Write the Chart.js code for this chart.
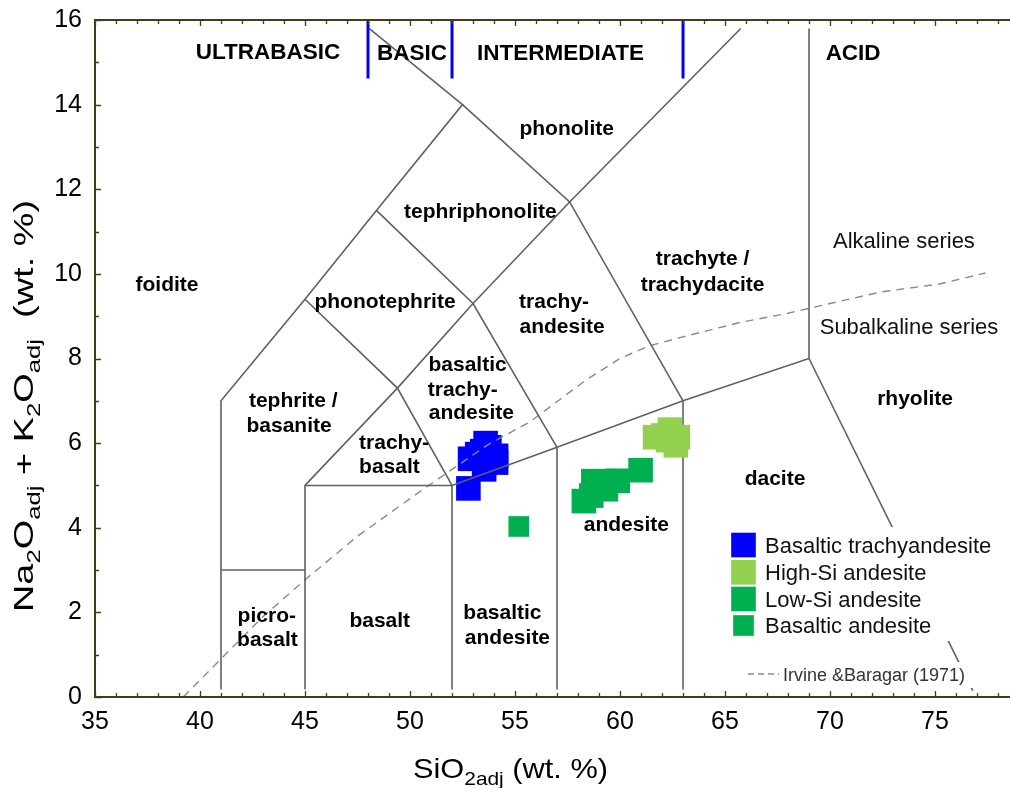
<!DOCTYPE html>
<html>
<head>
<meta charset="utf-8">
<title>TAS diagram</title>
<script src="https://cdn.jsdelivr.net/npm/chart.js@4.4.1/dist/chart.umd.min.js"></script>
<style>
  html, body { margin: 0; padding: 0; background: #fff; overflow: hidden; }
  #wrap { width: 1010px; height: 788px; position: relative; }
  #tas { display: block; }
</style>
</head>
<body>
<div id="wrap"><canvas id="tas" width="1010" height="788"></canvas></div>
<script>
// ---- axis ranges and tick labels ----
const xMin = 35, xMax = 78.57;
const yMin = 0, yMax = 16;
const xTickValues = [35, 40, 45, 50, 55, 60, 65, 70, 75];
const yTickValues = [0, 2, 4, 6, 8, 10, 12, 14, 16];

// ---- TAS field boundaries (SiO2, Na2O+K2O), one polyline each ----
const tasBoundaries = [
  [[41, 0.18], [41, 7], [45, 9.4], [48.4, 11.5], [52.5, 14], [48.05, 15.8]],
  [[41, 3], [45, 3]],
  [[45, 0.18], [45, 5], [49.4, 7.3], [53, 9.3], [57.6, 11.7], [65.75, 15.8]],
  [[45, 5], [52, 5], [57, 5.9], [63, 7], [69, 8], [69, 15.8]],
  [[69, 8], [76.8, 0.15]],
  [[52, 0.18], [52, 5]],
  [[57, 0.18], [57, 5.9]],
  [[63, 0.18], [63, 7]],
  [[45, 9.4], [49.4, 7.3], [52, 5]],
  [[48.4, 11.5], [53, 9.3], [57, 5.9]],
  [[52.5, 14], [57.6, 11.7], [63, 7]]
];

// ultrabasic / basic / intermediate / acid dividers
const silicaClassLimits = [48, 52, 63];
const silicaClassTop = 16, silicaClassBottom = 14.62;

// Irvine & Baragar (1971) alkaline / subalkaline divide
const irvineSiO2 = [39.2, 41, 43, 45, 47.5, 50.6, 53.7, 55.7, 58.4, 60, 61.4, 62.9, 65.7, 68, 70, 72.4, 75.2, 77.4];
const irvineAlk  = [0, 0.9, 1.9, 2.77, 3.8, 4.9, 5.96, 6.5, 7.5, 8.0, 8.3, 8.5, 8.85, 9.07, 9.3, 9.57, 9.76, 10.02];

// ---- samples ----
const btaSiO2 = [52.78, 52.86, 53.20, 53.44, 53.60, 53.78, 54.10, 54.10, 53.53, 53.81];
const btaAlk  = [4.93, 5.63, 5.74, 5.81, 6.00, 5.90, 5.70, 5.54, 5.38, 5.60];

const hiSiSiO2 = [61.67, 62.06, 62.38, 62.75, 62.66, 62.29];
const hiSiAlk  = [6.14, 6.18, 6.32, 6.14, 5.95, 6.07];

const loSiSiO2 = [58.28, 58.63, 58.73, 59.29, 59.33, 59.89, 60.98];
const loSiAlk  = [4.63, 4.76, 5.10, 5.10, 4.91, 5.11, 5.36];

const baSiO2 = [55.18];
const baAlk  = [4.03];

// ---- text placed in the diagram (anchor = SiO2, alkalis at text centre) ----
const classNames = [
  ['ULTRABASIC', 43.24, 15.28],
  ['BASIC', 50.10, 15.24],
  ['INTERMEDIATE', 57.17, 15.24],
  ['ACID', 71.10, 15.24]
];
const fieldNames = [
  ['phonolite', 57.46, 13.46],
  ['tephriphonolite', 53.35, 11.51],
  ['foidite', 38.43, 9.78],
  ['phonotephrite', 48.81, 9.38],
  ['trachy-', 56.86, 9.38],
  ['andesite', 57.24, 8.77],
  ['trachyte /', 63.93, 10.38],
  ['trachydacite', 63.93, 9.78],
  ['basaltic', 52.74, 7.89],
  ['trachy-', 52.51, 7.28],
  ['andesite', 52.92, 6.74],
  ['tephrite /', 44.44, 7.02],
  ['basanite', 44.24, 6.45],
  ['trachy-', 49.24, 6.03],
  ['basalt', 49.02, 5.48],
  ['rhyolite', 74.05, 7.07],
  ['dacite', 67.38, 5.18],
  ['andesite', 60.30, 4.09],
  ['picro-', 43.18, 1.94],
  ['basalt', 43.21, 1.39],
  ['basalt', 48.56, 1.84],
  ['basaltic', 54.40, 2.01],
  ['andesite', 54.64, 1.42]
];
const seriesNames = [
  ['Alkaline series', 73.52, 10.80],
  ['Subalkaline series', 73.76, 8.77]
];

const FONT = '"Liberation Sans", Arial, Helvetica, sans-serif';
const LINE_GREY = '#606060';
const AXIS_COLOR = '#3f3f1c';

const toPoints = (xs, ys) => xs.map((x, i) => ({ x: x, y: ys[i] }));

const boundarySets = tasBoundaries.map(line => ({
  label: '_field',
  data: line.map(p => ({ x: p[0], y: p[1] })),
  showLine: true, spanGaps: false,
  borderColor: LINE_GREY, borderWidth: 1.6,
  pointRadius: 0, pointHoverRadius: 0,
  order: 5
}));

const classSets = silicaClassLimits.map(s => ({
  label: '_class',
  data: [{ x: s, y: silicaClassTop }, { x: s, y: silicaClassBottom }],
  showLine: true,
  borderColor: '#0000ff', borderWidth: 3,
  pointRadius: 0, pointHoverRadius: 0,
  order: 5
}));

const irvineSet = {
  label: '_irvine',
  data: toPoints(irvineSiO2, irvineAlk),
  showLine: true,
  borderColor: '#8a8a8a', borderWidth: 1.4, borderDash: [8, 6],
  pointRadius: 0, pointHoverRadius: 0,
  order: 5
};

function sampleSet(label, xs, ys, color, radius, order) {
  return {
    label: label,
    data: toPoints(xs, ys),
    pointStyle: 'rect',
    pointRadius: radius, pointHoverRadius: radius,
    backgroundColor: color, borderColor: color, borderWidth: 0,
    showLine: false,
    order: order,
    isSample: true
  };
}

const sampleSets = [
  sampleSet('Basaltic trachyandesite', btaSiO2, btaAlk, '#0000ff', 17.4, 10),
  sampleSet('High-Si andesite', hiSiSiO2, hiSiAlk, '#92d050', 17.4, 1),
  sampleSet('Low-Si andesite', loSiSiO2, loSiAlk, '#00b050', 17.4, 1),
  sampleSet('Basaltic andesite', baSiO2, baAlk, '#00b050', 14.6, 1)
];

// draws frame with inward ticks, text in the fields, axis titles and the key
const tasDecor = {
  id: 'tasDecor',
  afterDatasetsDraw(chart) {
    const ctx = chart.ctx;
    const xs = chart.scales.x, ys = chart.scales.y;
    const a = chart.chartArea;
    const X = v => xs.getPixelForValue(v);
    const Y = v => ys.getPixelForValue(v);

    ctx.save();
    // text inside the diagram
    ctx.textAlign = 'center';
    ctx.textBaseline = 'alphabetic';
    ctx.fillStyle = '#000';
    const putText = (list, font, size) => {
      ctx.font = font;
      list.forEach(t => ctx.fillText(t[0], X(t[1]), Y(t[2]) + 0.358 * size));
    };
    putText(classNames, 'bold 22.5px ' + FONT, 22.5);
    putText(fieldNames, 'bold 21px ' + FONT, 21);
    ctx.fillStyle = '#111';
    putText(seriesNames, '22px ' + FONT, 22);

    // key for the sample groups
    ctx.fillStyle = '#fff';
    ctx.fillRect(726, 527, 274, 114);
    const rowY = [545, 572.3, 599, 625.5];
    const sets = chart.data.datasets.filter(d => d.isSample);
    ctx.textAlign = 'left';
    ctx.textBaseline = 'alphabetic';
    ctx.font = '22px ' + FONT;
    sets.forEach((d, i) => {
      const side = d.pointRadius * Math.SQRT2;
      ctx.fillStyle = d.backgroundColor;
      ctx.fillRect(743.5 - side / 2, rowY[i] - side / 2, side, side);
      ctx.fillStyle = '#111';
      ctx.fillText(d.label, 765, rowY[i] + 0.358 * 22);
    });

    // key for the dashed divide
    ctx.fillStyle = '#fff';
    ctx.fillRect(744, 662, 230, 26);
    ctx.strokeStyle = '#8a8a8a';
    ctx.lineWidth = 1.3;
    ctx.setLineDash([6, 4]);
    ctx.beginPath();
    ctx.moveTo(748, 674);
    ctx.lineTo(779, 674);
    ctx.stroke();
    ctx.setLineDash([]);
    ctx.fillStyle = '#333';
    ctx.font = '18px ' + FONT;
    ctx.fillText('Irvine &Baragar (1971)', 783, 675 + 0.358 * 18);

    // frame: left, bottom, top with inward ticks
    ctx.strokeStyle = AXIS_COLOR;
    ctx.lineWidth = 2;
    ctx.beginPath();
    ctx.moveTo(a.left, a.top); ctx.lineTo(a.left, a.bottom);
    ctx.moveTo(a.left - 1, a.bottom); ctx.lineTo(a.right, a.bottom);
    ctx.moveTo(a.left - 1, a.top); ctx.lineTo(a.right, a.top);
    ctx.stroke();
    ctx.lineWidth = 1.3;
    ctx.beginPath();
    for (let v = Math.ceil(xMin); v <= xMax; v += 1) {
      const p = Math.round(X(v)) + 0.5;
      const len = v % 5 === 0 ? 6 : 4;
      ctx.moveTo(p, a.bottom); ctx.lineTo(p, a.bottom - len);
      ctx.moveTo(p, a.top); ctx.lineTo(p, a.top + len);
    }
    for (let v = yMin; v <= yMax; v += 1) {
      const p = Math.round(Y(v)) + 0.5;
      const len = v % 2 === 0 ? 6 : 4;
      ctx.moveTo(a.left, p); ctx.lineTo(a.left + len, p);
    }
    ctx.stroke();

    // axis titles with subscripts
    const big = 28, small = 19, drop = 7;
    const drawRuns = (runs, targetLen) => {
      let w = 0;
      runs.forEach(r => { ctx.font = (r[1] ? small : big) + 'px ' + FONT; w += ctx.measureText(r[0]).width; });
      const sx = targetLen / w;
      ctx.scale(sx, 1);
      let x = 0;
      runs.forEach(r => {
        ctx.font = (r[1] ? small : big) + 'px ' + FONT;
        ctx.fillText(r[0], x, r[1] ? drop : 0);
        x += ctx.measureText(r[0]).width;
      });
    };
    ctx.fillStyle = '#000';
    ctx.textAlign = 'left';
    ctx.textBaseline = 'alphabetic';

    ctx.save();
    ctx.translate(413, 778);
    drawRuns([['SiO', false], ['2adj', true], [' (wt. %)', false]], 195);
    ctx.restore();

    ctx.save();
    ctx.translate(33, 612);
    ctx.rotate(-Math.PI / 2);
    drawRuns([['Na', false], ['2', true], ['O', false], ['adj', true], [' + K', false], ['2', true],
              ['O', false], ['adj', true], ['  (wt. %)', false]], 412);
    ctx.restore();

    ctx.restore();
  }
};

new Chart(document.getElementById('tas'), {
  type: 'scatter',
  data: { datasets: [...sampleSets, ...boundarySets, ...classSets, irvineSet] },
  options: {
    responsive: false,
    animation: false,
    devicePixelRatio: 1,
    layout: { autoPadding: false, padding: { top: 20, right: 0, bottom: 0, left: 0 } },
    plugins: { legend: { display: false }, tooltip: { enabled: false } },
    events: [],
    scales: {
      x: {
        type: 'linear', position: 'bottom', min: xMin, max: xMax,
        afterBuildTicks: s => { s.ticks = xTickValues.map(v => ({ value: v })); },
        afterFit: s => { s.height = 91; s.paddingLeft = 0; s.paddingRight = 0; },
        grid: { display: false, drawTicks: false },
        border: { display: false },
        ticks: { color: '#000', font: { family: FONT, size: 25 }, padding: 10, maxRotation: 0, autoSkip: false }
      },
      y: {
        type: 'linear', position: 'left', min: yMin, max: yMax,
        afterBuildTicks: s => { s.ticks = yTickValues.map(v => ({ value: v })); },
        afterFit: s => { s.width = 95; s.paddingTop = 0; s.paddingBottom = 0; },
        grid: { display: false, drawTicks: false },
        border: { display: false },
        ticks: { color: '#000', font: { family: FONT, size: 25 }, padding: 13, autoSkip: false }
      }
    }
  },
  plugins: [tasDecor]
});
</script>
</body>
</html>
